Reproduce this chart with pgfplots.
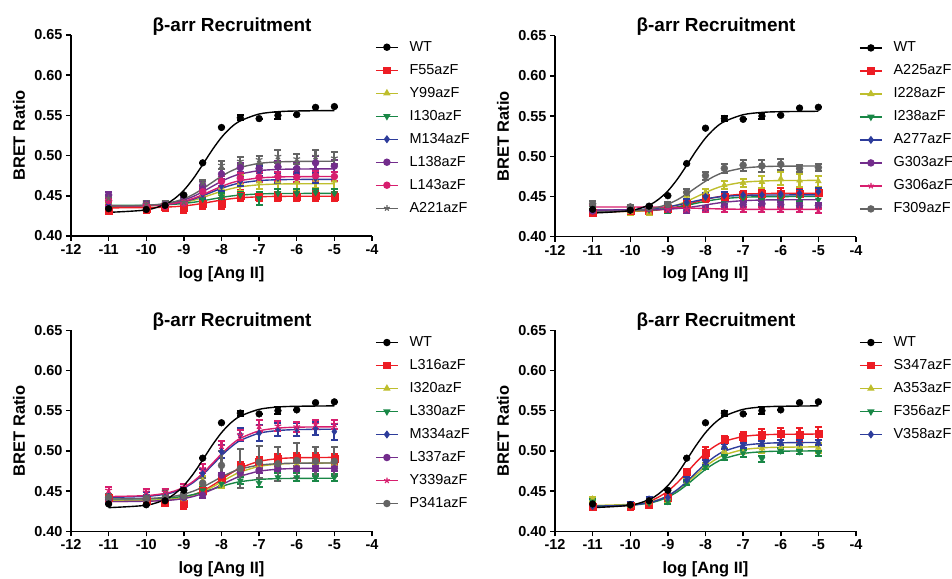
\documentclass[border=0pt]{standalone}
\usepackage{fontspec}
\setmainfont{Liberation Sans}
\usepackage{pgfplots}
\usepackage{pgfplotstable}
\pgfplotsset{compat=1.18}
\usetikzlibrary{plotmarks}

\definecolor{cred}{RGB}{237,28,36}
\definecolor{cyel}{RGB}{190,190,45}
\definecolor{cgrn}{RGB}{25,135,70}
\definecolor{cblu}{RGB}{45,60,155}
\definecolor{cpur}{RGB}{115,45,140}
\definecolor{cpnk}{RGB}{215,30,110}
\definecolor{cgry}{RGB}{100,100,100}

% WT data and fitted curve (same in all panels)
\pgfplotstableread{
x y e
-11 0.434 0
-10 0.433 0
-9.5 0.438 0
-9 0.451 0
-8.5 0.491 0
-8 0.535 0
-7.5 0.547 0.003
-7 0.546 0
-6.5 0.550 0.004
-6 0.551 0
-5.5 0.560 0
-5 0.561 0
}\wtd
\pgfplotstableread{
x c
-11 0.4294
-10 0.4324
-9.5 0.4394
-9.25 0.4464
-9 0.4569
-8.75 0.4714
-8.5 0.4888
-8.25 0.5068
-8 0.5227
-7.75 0.5349
-7.5 0.5432
-7 0.5517
-6.5 0.5546
-6 0.5555
-5 0.5560
}\wtc

% Panel 1: F55 Y99 I130 M134 L138 L143 A221
\pgfplotstableread{
x s1 e1 s2 e2 s3 e3 s4 e4 s5 e5 s6 e6 s7 e7
-11 0.432 0.005 0.445 0.004 0.440 0.003 0.440 0.004 0.451 0.004 0.444 0.005 0.447 0.004
-10 0.434 0.005 0.438 0.004 0.439 0.003 0.438 0.004 0.440 0.004 0.438 0.005 0.440 0.003
-9.5 0.436 0.005 0.438 0.004 0.438 0.003 0.438 0.004 0.439 0.004 0.437 0.005 0.440 0.003
-9 0.435 0.006 0.442 0.005 0.441 0.004 0.442 0.005 0.443 0.005 0.441 0.005 0.442 0.004
-8.5 0.440 0.006 0.452 0.006 0.446 0.004 0.452 0.006 0.463 0.005 0.455 0.006 0.466 0.004
-8 0.440 0.007 0.460 0.009 0.449 0.004 0.462 0.006 0.477 0.006 0.468 0.006 0.488 0.005
-7.5 0.450 0.007 0.466 0.010 0.451 0.004 0.468 0.006 0.485 0.006 0.472 0.006 0.493 0.005
-7 0.449 0.006 0.468 0.010 0.447 0.008 0.481 0.006 0.484 0.006 0.473 0.006 0.495 0.005
-6.5 0.449 0.006 0.468 0.010 0.453 0.005 0.472 0.006 0.486 0.007 0.474 0.006 0.499 0.008
-6 0.449 0.006 0.467 0.010 0.453 0.005 0.479 0.006 0.484 0.007 0.473 0.006 0.496 0.006
-5.5 0.450 0.006 0.470 0.010 0.454 0.005 0.472 0.006 0.491 0.008 0.475 0.006 0.499 0.008
-5 0.449 0.006 0.469 0.010 0.453 0.005 0.474 0.006 0.487 0.007 0.474 0.006 0.497 0.008
}\dA
\pgfplotstableread{
x c1 c2 c3 c4 c5 c6 c7
-11 0.4350 0.4371 0.4380 0.4371 0.4371 0.4371 0.4371
-10 0.4353 0.4376 0.4383 0.4377 0.4379 0.4377 0.4381
-9.5 0.4359 0.4387 0.4389 0.4390 0.4397 0.4392 0.4403
-9.25 0.4365 0.4398 0.4395 0.4404 0.4417 0.4407 0.4427
-9 0.4374 0.4416 0.4405 0.4426 0.4447 0.4431 0.4463
-8.75 0.4388 0.4443 0.4419 0.4458 0.4492 0.4467 0.4517
-8.5 0.4406 0.4478 0.4438 0.4500 0.4550 0.4513 0.4587
-8.25 0.4427 0.4518 0.4459 0.4547 0.4616 0.4566 0.4666
-8 0.4447 0.4556 0.4480 0.4593 0.4680 0.4616 0.4743
-7.75 0.4463 0.4588 0.4497 0.4631 0.4733 0.4659 0.4807
-7.5 0.4475 0.4612 0.4509 0.4659 0.4771 0.4689 0.4853
-7 0.4488 0.4637 0.4523 0.4689 0.4813 0.4722 0.4903
-6.5 0.4493 0.4646 0.4528 0.4700 0.4828 0.4734 0.4921
-6 0.4494 0.4649 0.4529 0.4703 0.4833 0.4738 0.4927
-5 0.4495 0.4650 0.4530 0.4705 0.4835 0.4740 0.4930
}\cA

% Panel 2: A225 I228 I238 A277 G303 G306 F309
\pgfplotstableread{
x s1 e1 s2 e2 s3 e3 s4 e4 s5 e5 s6 e6 s7 e7
-11 0.430 0.004 0.437 0.004 0.436 0.004 0.434 0.004 0.432 0.003 0.438 0.003 0.441 0.003
-10 0.432 0.004 0.431 0.004 0.436 0.004 0.433 0.004 0.434 0.003 0.435 0.003 0.437 0.003
-9.5 0.432 0.004 0.430 0.003 0.433 0.003 0.436 0.004 0.435 0.003 0.435 0.003 0.436 0.003
-9 0.435 0.005 0.436 0.004 0.434 0.004 0.437 0.004 0.434 0.003 0.434 0.003 0.440 0.003
-8.5 0.441 0.005 0.451 0.005 0.440 0.004 0.443 0.004 0.433 0.003 0.434 0.003 0.455 0.004
-8 0.448 0.005 0.455 0.004 0.449 0.004 0.450 0.004 0.435 0.003 0.434 0.003 0.476 0.005
-7.5 0.450 0.005 0.464 0.005 0.440 0.005 0.451 0.004 0.438 0.003 0.434 0.003 0.485 0.006
-7 0.452 0.005 0.467 0.005 0.448 0.005 0.452 0.004 0.440 0.003 0.434 0.003 0.489 0.007
-6.5 0.453 0.006 0.468 0.007 0.446 0.005 0.452 0.004 0.441 0.003 0.434 0.003 0.488 0.007
-6 0.454 0.006 0.472 0.008 0.449 0.005 0.453 0.004 0.440 0.003 0.434 0.003 0.490 0.007
-5.5 0.454 0.005 0.470 0.008 0.449 0.005 0.454 0.004 0.439 0.003 0.434 0.003 0.485 0.004
-5 0.455 0.004 0.469 0.007 0.446 0.005 0.456 0.004 0.439 0.003 0.433 0.003 0.486 0.004
}\dB
\pgfplotstableread{
x c1 c2 c3 c4 c5 c6 c7
-11 0.4310 0.4311 0.4320 0.4331 0.4330 0.4370 0.4311
-10 0.4315 0.4316 0.4324 0.4335 0.4331 0.4369 0.4321
-9.5 0.4324 0.4329 0.4331 0.4346 0.4334 0.4368 0.4344
-9.25 0.4333 0.4342 0.4338 0.4356 0.4337 0.4367 0.4368
-9 0.4348 0.4363 0.4350 0.4372 0.4342 0.4365 0.4405
-8.75 0.4370 0.4396 0.4367 0.4393 0.4350 0.4362 0.4459
-8.5 0.4399 0.4440 0.4390 0.4419 0.4361 0.4358 0.4531
-8.25 0.4432 0.4494 0.4415 0.4446 0.4377 0.4354 0.4612
-8 0.4463 0.4549 0.4440 0.4470 0.4395 0.4350 0.4690
-7.75 0.4489 0.4598 0.4460 0.4488 0.4413 0.4347 0.4755
-7.5 0.4508 0.4635 0.4475 0.4501 0.4429 0.4344 0.4802
-7 0.4529 0.4677 0.4491 0.4514 0.4448 0.4341 0.4853
-6.5 0.4536 0.4692 0.4497 0.4518 0.4456 0.4340 0.4871
-6 0.4539 0.4698 0.4499 0.4519 0.4459 0.4340 0.4877
-5 0.4540 0.4700 0.4500 0.4520 0.4460 0.4340 0.4880
}\cB

% Panel 3: L316 I320 L330 M334 L337 Y339 P341
\pgfplotstableread{
x s1 e1 s2 e2 s3 e3 s4 e4 s5 e5 s6 e6 s7 e7
-11 0.442 0.005 0.440 0.004 0.441 0.003 0.443 0.004 0.440 0.003 0.451 0.004 0.442 0.004
-10 0.438 0.004 0.439 0.004 0.440 0.003 0.445 0.004 0.440 0.003 0.449 0.004 0.441 0.004
-9.5 0.436 0.004 0.440 0.004 0.449 0.003 0.443 0.004 0.440 0.003 0.449 0.004 0.441 0.004
-9 0.434 0.006 0.440 0.004 0.442 0.003 0.450 0.005 0.442 0.003 0.455 0.004 0.444 0.004
-8.5 0.450 0.005 0.463 0.006 0.451 0.004 0.472 0.006 0.445 0.003 0.478 0.006 0.460 0.006
-8 0.466 0.005 0.458 0.004 0.459 0.003 0.499 0.008 0.470 0.003 0.506 0.006 0.482 0.018
-7.5 0.480 0.006 0.472 0.004 0.463 0.004 0.520 0.008 0.473 0.003 0.520 0.006 0.478 0.024
-7 0.486 0.006 0.481 0.004 0.460 0.005 0.522 0.010 0.476 0.003 0.531 0.007 0.486 0.020
-6.5 0.490 0.006 0.484 0.004 0.467 0.005 0.527 0.008 0.478 0.003 0.531 0.006 0.484 0.021
-6 0.491 0.006 0.483 0.004 0.467 0.005 0.527 0.008 0.478 0.003 0.530 0.006 0.488 0.022
-5.5 0.491 0.006 0.485 0.003 0.467 0.004 0.528 0.008 0.478 0.003 0.533 0.006 0.487 0.018
-5 0.490 0.006 0.484 0.004 0.467 0.004 0.524 0.010 0.478 0.003 0.533 0.006 0.487 0.018
}\dC
\pgfplotstableread{
x c1 c2 c3 c4 c5 c6 c7
-11 0.4371 0.4380 0.4401 0.4422 0.4370 0.4432 0.4401
-10 0.4376 0.4385 0.4404 0.4434 0.4374 0.4444 0.4407
-9.5 0.4387 0.4395 0.4412 0.4461 0.4383 0.4472 0.4422
-9.25 0.4399 0.4405 0.4421 0.4490 0.4392 0.4501 0.4437
-9 0.4420 0.4423 0.4436 0.4536 0.4408 0.4549 0.4462
-8.75 0.4453 0.4451 0.4457 0.4607 0.4433 0.4621 0.4499
-8.5 0.4502 0.4493 0.4487 0.4704 0.4470 0.4721 0.4550
-8.25 0.4568 0.4549 0.4522 0.4820 0.4519 0.4840 0.4612
-8 0.4645 0.4615 0.4559 0.4941 0.4578 0.4963 0.4676
-7.75 0.4722 0.4681 0.4592 0.5047 0.4636 0.5072 0.4732
-7.5 0.4788 0.4737 0.4617 0.5129 0.4685 0.5156 0.4775
-7 0.4870 0.4807 0.4645 0.5220 0.4747 0.5249 0.4823
-6.5 0.4903 0.4835 0.4655 0.5253 0.4772 0.5283 0.4841
-6 0.4915 0.4845 0.4658 0.5265 0.4781 0.5295 0.4847
-5 0.4919 0.4850 0.4660 0.5270 0.4785 0.5300 0.4850
}\cC

% Panel 4: S347 A353 F356 V358
\pgfplotstableread{
x s1 e1 s2 e2 s3 e3 s4 e4
-11 0.431 0.003 0.440 0.003 0.437 0.003 0.431 0.003
-10 0.432 0.005 0.432 0.003 0.432 0.003 0.433 0.003
-9.5 0.433 0.004 0.436 0.003 0.435 0.003 0.440 0.003
-9 0.442 0.005 0.441 0.004 0.437 0.003 0.442 0.003
-8.5 0.474 0.004 0.462 0.004 0.461 0.003 0.464 0.003
-8 0.498 0.007 0.481 0.004 0.480 0.003 0.486 0.003
-7.5 0.514 0.004 0.500 0.004 0.492 0.003 0.505 0.003
-7 0.518 0.006 0.498 0.006 0.497 0.004 0.507 0.003
-6.5 0.520 0.007 0.503 0.006 0.490 0.004 0.509 0.003
-6 0.521 0.008 0.504 0.005 0.500 0.003 0.510 0.003
-5.5 0.520 0.008 0.505 0.005 0.499 0.003 0.510 0.003
-5 0.522 0.008 0.504 0.006 0.497 0.003 0.510 0.003
}\dD
\pgfplotstableread{
x c1 c2 c3 c4
-11 0.4303 0.4321 0.4311 0.4312
-10 0.4325 0.4335 0.4324 0.4326
-9.5 0.4375 0.4363 0.4351 0.4357
-9.25 0.4425 0.4394 0.4380 0.4390
-9 0.4500 0.4441 0.4425 0.4442
-8.75 0.4604 0.4511 0.4491 0.4518
-8.5 0.4729 0.4603 0.4577 0.4618
-8.25 0.4858 0.4706 0.4675 0.4731
-8 0.4972 0.4806 0.4770 0.4839
-7.75 0.5059 0.4889 0.4848 0.4930
-7.5 0.5118 0.4950 0.4905 0.4996
-7 0.5179 0.5015 0.4967 0.5067
-6.5 0.5200 0.5038 0.4989 0.5092
-6 0.5206 0.5046 0.4997 0.5101
-5 0.5210 0.5050 0.5000 0.5105
}\cD

\pgfplotsset{
  panel/.style={
    scale only axis, width=301bp, height=201bp,
    xmin=-12, xmax=-4, ymin=0.40, ymax=0.65,
    xtick={-12,-11,-10,-9,-8,-7,-6,-5,-4},
    ytick={0.40,0.45,0.50,0.55,0.60,0.65},
    axis x line*=bottom, axis y line*=left,
    axis line style={line width=1.5pt},
    every tick/.style={line width=1.5pt, black},
    major tick length=5bp, tick align=outside,
    /pgf/number format/assume math mode=true,
    yticklabel style={/pgf/number format/.cd, fixed, fixed zerofill, precision=2},
    tick label style={font=\bfseries\fontsize{14.5}{16}\selectfont},
    title={β-arr Recruitment},
    title style={at={(axis description cs:0.535,1)}, anchor=base, yshift=-2bp,
      font=\bfseries\fontsize{19}{22}\selectfont},
    xlabel={log [Ang II]}, ylabel={BRET Ratio},
    label style={font=\bfseries\fontsize{16.5}{18}\selectfont},
    xlabel style={at={(axis description cs:0.5,-0.189)}, anchor=center},
    ylabel style={at={(axis description cs:-0.173,0.5)}, anchor=center},
    legend cell align=left,
    legend style={draw=none, fill=none, at={(axis description cs:1.01,0.975)},
      anchor=north west, inner sep=0pt, row sep=9bp,
      font=\fontsize{14.5}{16}\selectfont,
      nodes={inner sep=0pt, text height=11bp, text depth=3bp},
      /tikz/every odd column/.append style={column sep=11bp}},
    clip=false,
  },
}

\newcommand\wtlegend{%
  \addlegendimage{black, line width=1.4pt, legend image code/.code={\draw[line width=1.4pt, mark=*, mark size=3bp, mark options={solid}, mark repeat=2, mark phase=2] plot coordinates {(0bp,0bp) (11bp,0bp) (22bp,0bp)};}}
  \addlegendentry{WT}
}
\newcommand\wtplot{%
  \addplot[black, line width=1.4pt, mark=none, smooth, forget plot] table[x=x, y=c] {\wtc};
  \addplot[black, only marks, mark=*, mark size=3.4bp, forget plot,
    error bars/.cd, y dir=both, y explicit,
    error bar style={line width=2pt, black},
    error mark options={rotate=90, line width=2pt, mark size=3.5bp, black}] table[x=x, y=y, y error=e] {\wtd};
}
% #1 color, #2 mark, #3 mark opts, #4 legend, #5 column index, #6 data, #7 curve
\newcommand\mut[7]{%
  \addplot[color=#1, line width=1.4pt, mark=none, smooth,
    legend image code/.code={\draw[line width=1.4pt, mark=#2, mark size=3bp, mark options={solid, fill=#1, #3}, mark repeat=2, mark phase=2] plot coordinates {(0bp,0bp) (11bp,0bp) (22bp,0bp)};}] table[x=x, y=c#5] {#7};
  \addlegendentry{#4}
  \addplot[color=#1, only marks, mark=#2, mark size=3.5bp, mark options={solid, fill=#1, #3}, forget plot,
    error bars/.cd, y dir=both, y explicit,
    error bar style={line width=2.2pt, #1},
    error mark options={rotate=90, line width=2pt, mark size=3.5bp, #1}] table[x=x, y=s#5, y error=e#5] {#6};
}

\begin{document}
\begin{tikzpicture}
\useasboundingbox (0,0) rectangle (952bp,579bp);

\begin{axis}[panel, at={(71bp,343bp)}, anchor=south west]
\wtlegend
\mut{cred}{square*}{}{F55azF}{1}{\dA}{\cA}
\mut{cyel}{triangle*}{}{Y99azF}{2}{\dA}{\cA}
\mut{cgrn}{triangle*}{rotate=180}{I130azF}{3}{\dA}{\cA}
\mut{cblu}{diamond*}{}{M134azF}{4}{\dA}{\cA}
\mut{cpur}{*}{}{L138azF}{5}{\dA}{\cA}
\mut{cpnk}{*}{}{L143azF}{6}{\dA}{\cA}
\mut{cgry}{star}{line width=1.2pt}{A221azF}{7}{\dA}{\cA}
\wtplot
\end{axis}

\begin{axis}[panel, at={(555bp,342.3bp)}, anchor=south west]
\wtlegend
\mut{cred}{square*}{}{A225azF}{1}{\dB}{\cB}
\mut{cyel}{triangle*}{}{I228azF}{2}{\dB}{\cB}
\mut{cgrn}{triangle*}{rotate=180}{I238azF}{3}{\dB}{\cB}
\mut{cblu}{diamond*}{}{A277azF}{4}{\dB}{\cB}
\mut{cpur}{*}{}{G303azF}{5}{\dB}{\cB}
\mut{cpnk}{star}{line width=1.2pt}{G306azF}{6}{\dB}{\cB}
\mut{cgry}{*}{}{F309azF}{7}{\dB}{\cB}
\wtplot
\end{axis}

\begin{axis}[panel, at={(71bp,47.7bp)}, anchor=south west]
\wtlegend
\mut{cred}{square*}{}{L316azF}{1}{\dC}{\cC}
\mut{cyel}{triangle*}{}{I320azF}{2}{\dC}{\cC}
\mut{cgrn}{triangle*}{rotate=180}{L330azF}{3}{\dC}{\cC}
\mut{cblu}{diamond*}{}{M334azF}{4}{\dC}{\cC}
\mut{cpur}{*}{}{L337azF}{5}{\dC}{\cC}
\mut{cpnk}{star}{line width=1.2pt}{Y339azF}{6}{\dC}{\cC}
\mut{cgry}{*}{}{P341azF}{7}{\dC}{\cC}
\wtplot
\end{axis}

\begin{axis}[panel, at={(555bp,47.7bp)}, anchor=south west]
\wtlegend
\mut{cred}{square*}{}{S347azF}{1}{\dD}{\cD}
\mut{cyel}{triangle*}{}{A353azF}{2}{\dD}{\cD}
\mut{cgrn}{triangle*}{rotate=180}{F356azF}{3}{\dD}{\cD}
\mut{cblu}{diamond*}{}{V358azF}{4}{\dD}{\cD}
\wtplot
\end{axis}
\end{tikzpicture}
\end{document}
